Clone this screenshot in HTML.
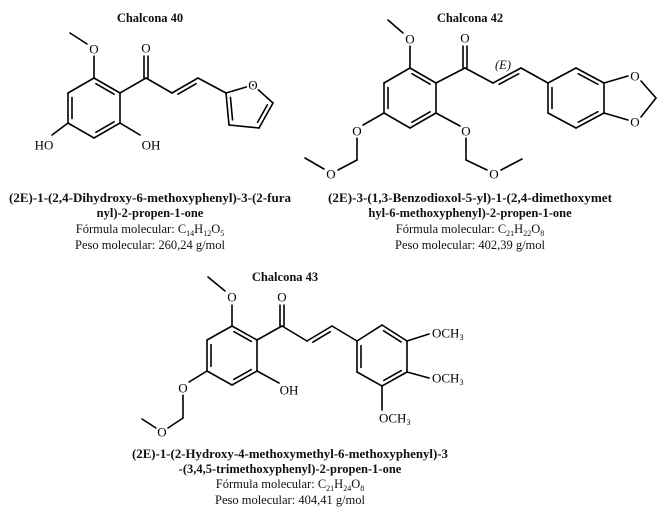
<!DOCTYPE html>
<html><head><meta charset="utf-8"><style>
html,body{margin:0;padding:0;background:#fff;}
svg{display:block;}
.b{stroke:#000;stroke-width:1.6;fill:none;stroke-linecap:round;}
.a{font-family:"Liberation Serif",serif;font-size:13px;fill:#000;stroke:#fff;stroke-width:4;paint-order:stroke;}
.t{font-family:"Liberation Serif",serif;font-size:12.5px;font-weight:bold;fill:#111;}
.n{font-family:"Liberation Serif",serif;font-size:12.5px;fill:#111;}
</style></head><body>
<svg id="s" width="665" height="516" viewBox="0 0 665 516" xmlns="http://www.w3.org/2000/svg">
<g id="bonds"></g>
<g class="a" text-anchor="middle" dominant-baseline="central">
<text x="94" y="49">O</text><text x="146" y="48">O</text><text x="253" y="85">O</text>
<text x="44" y="145">HO</text><text x="151" y="145">OH</text>
<text x="410" y="39">O</text><text x="465" y="38">O</text>
<text x="635" y="76">O</text><text x="635" y="122">O</text>
<text x="357" y="131">O</text><text x="466" y="131">O</text>
<text x="331" y="174">O</text><text x="494" y="174">O</text>
<text x="232" y="297">O</text><text x="282" y="297">O</text>
<text x="183" y="388">O</text><text x="162" y="432">O</text>
<text x="289" y="390">OH</text>
</g>
<text x="503" y="69" class="n" font-style="italic" font-size="12" text-anchor="middle">(E)</text>
<g class="a" dominant-baseline="central">
<text x="432" y="333">OCH<tspan font-size="8" dy="4">3</tspan></text>
<text x="432" y="378">OCH<tspan font-size="8" dy="4">3</tspan></text>
<text x="379" y="418">OCH<tspan font-size="8" dy="4">3</tspan></text>
</g>
<g text-anchor="middle">
<text class="t" x="150" y="22">Chalcona 40</text>
<text class="t" x="470" y="22">Chalcona 42</text>
<text class="t" x="285" y="281">Chalcona 43</text>
<text class="t" x="150" y="202" textLength="282" lengthAdjust="spacingAndGlyphs">(2E)-1-(2,4-Dihydroxy-6-methoxyphenyl)-3-(2-fura</text>
<text class="t" x="150" y="217">nyl)-2-propen-1-one</text>
<text class="n" x="150" y="233">Fórmula molecular: C<tspan font-size="8" dy="3">14</tspan><tspan dy="-3">H</tspan><tspan font-size="8" dy="3">12</tspan><tspan dy="-3">O</tspan><tspan font-size="8" dy="3">5</tspan></text>
<text class="n" x="150" y="249">Peso molecular: 260,24 g/mol</text>
<text class="t" x="470" y="202" textLength="284" lengthAdjust="spacingAndGlyphs">(2E)-3-(1,3-Benzodioxol-5-yl)-1-(2,4-dimethoxymet</text>
<text class="t" x="470" y="217">hyl-6-methoxyphenyl)-2-propen-1-one</text>
<text class="n" x="470" y="233">Fórmula molecular: C<tspan font-size="8" dy="3">21</tspan><tspan dy="-3">H</tspan><tspan font-size="8" dy="3">22</tspan><tspan dy="-3">O</tspan><tspan font-size="8" dy="3">8</tspan></text>
<text class="n" x="470" y="249">Peso molecular: 402,39 g/mol</text>
<text class="t" x="290" y="458" textLength="316" lengthAdjust="spacingAndGlyphs">(2E)-1-(2-Hydroxy-4-methoxymethyl-6-methoxyphenyl)-3</text>
<text class="t" x="290" y="473">-(3,4,5-trimethoxyphenyl)-2-propen-1-one</text>
<text class="n" x="290" y="488">Fórmula molecular: C<tspan font-size="8" dy="3">21</tspan><tspan dy="-3">H</tspan><tspan font-size="8" dy="3">24</tspan><tspan dy="-3">O</tspan><tspan font-size="8" dy="3">8</tspan></text>
<text class="n" x="290" y="504">Peso molecular: 404,41 g/mol</text>
</g>
</svg>
<script>
var g=document.getElementById('bonds'),NS='http://www.w3.org/2000/svg';
function L(a,b,c,d){var l=document.createElementNS(NS,'line');l.setAttribute('x1',a);l.setAttribute('y1',b);l.setAttribute('x2',c);l.setAttribute('y2',d);l.setAttribute('class','b');g.appendChild(l);}
function P(pts){for(var i=0;i<pts.length-1;i++)L(pts[i][0],pts[i][1],pts[i+1][0],pts[i+1][1]);}
function D(p,q,c){ // inner double line toward c
 var dx=q[0]-p[0],dy=q[1]-p[1],len=Math.hypot(dx,dy),nx=-dy/len,ny=dx/len;
 var mx=(p[0]+q[0])/2,my=(p[1]+q[1])/2;if((c[0]-mx)*nx+(c[1]-my)*ny<0){nx=-nx;ny=-ny;}
 var o=4,s=0.15;L(p[0]+dx*s+nx*o,p[1]+dy*s+ny*o,q[0]-dx*s+nx*o,q[1]-dy*s+ny*o);}
function ring(v,c,dbl){P(v.concat([v[0]]));dbl.forEach(function(i){D(v[i],v[(i+1)%v.length],c);});}
function CO(x,y1,y2){L(x-2,y1,x-2,y2);L(x+2,y1,x+2,y2);}
// Chalcona 40
var r=[[94,78],[120,93],[120,123],[94,138],[68,123],[68,93]];ring(r,[94,108],[0,2,4]);
P([[94,78],[94,56]]);P([[87,44],[70,33]]);
P([[120,93],[146,78],[172,93],[198,78],[226,93]]);CO(146,78,56);D([172,93],[198,78],[185,110]);
var f=[[226,93],[253,85],[273,103],[259,128],[229,125]];ring(f,[248,107],[2,4]);
P([[68,123],[52,135]]);P([[120,123],[140,135]]);
// Chalcona 42
r=[[410,68],[436,83],[436,113],[410,128],[384,113],[384,83]];ring(r,[410,98],[0,2,4]);
P([[410,68],[410,46]]);P([[403,33],[388,20]]);
P([[436,83],[465,68],[493,83],[521,68],[548,83]]);CO(465,68,46);D([493,83],[521,68],[507,100]);
r=[[548,83],[576,68],[604,83],[604,113],[576,128],[548,113]];ring(r,[576,98],[1,3,5]);
P([[604,83],[628,76]]);P([[641,81],[656,98],[641,117]]);P([[604,113],[628,120]]);
P([[384,113],[363,125]]);P([[357,138],[357,160],[338,170]]);P([[324,169],[305,158]]);
P([[436,113],[460,126]]);P([[466,138],[466,160],[487,170]]);P([[501,170],[522,159]]);
// Chalcona 43
r=[[232,326],[257,340],[257,371],[232,385],[207,371],[207,340]];ring(r,[232,355],[0,2,4]);
P([[232,326],[232,305]]);P([[225,291],[208,277]]);
P([[257,340],[282,326],[307,341],[332,326],[357,341]]);CO(282,326,305);D([307,341],[332,326],[320,357]);
r=[[357,341],[382,325],[407,341],[407,372],[382,386],[357,372]];ring(r,[382,356],[1,3,5]);
P([[407,341],[429,334]]);P([[407,372],[429,378]]);P([[382,386],[382,410]]);
P([[257,371],[279,383]]);
P([[207,371],[189,382]]);P([[183,395],[183,418],[168,428]]);P([[156,428],[142,419]]);
</script>
</body></html>
